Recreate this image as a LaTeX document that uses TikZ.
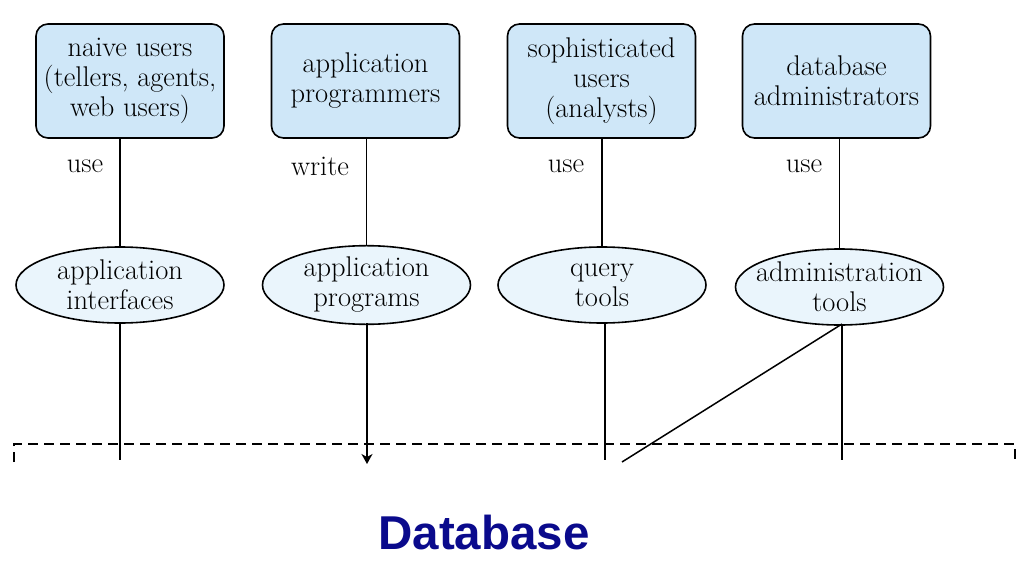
\documentclass[tikz,border=0pt]{standalone}
\usepackage{fontspec}
\newfontfamily\dbfont{Liberation Sans}
\usetikzlibrary{shapes.geometric,arrows.meta}
\definecolor{boxfill}{HTML}{CFE7F8}
\definecolor{ellfill}{HTML}{EAF5FC}
\definecolor{dbblue}{HTML}{0A0A8C}
\tikzset{
  userbox/.style={draw, line width=1.6pt, rounded corners=12pt, fill=boxfill,
    minimum width=188pt, minimum height=114pt, align=center, inner sep=0pt,
    font=\fontsize{28.5}{30}\selectfont},
  toolell/.style={draw, line width=1.6pt, ellipse, fill=ellfill,
    minimum width=208pt, minimum height=76pt, align=center, inner sep=0pt,
    font=\fontsize{28.5}{30}\selectfont},
  conn/.style={line width=1.5pt},
  verb/.style={font=\fontsize{28.5}{30}\selectfont},
  dashline/.style={line width=1.7pt, dash pattern=on 10pt off 6pt}
}
\begin{document}
\begin{tikzpicture}[x=1pt,y=-1pt]
\useasboundingbox (0,0) rectangle (1028,578);
% user boxes
\node[userbox] (b1) at (130,81) {naive users\\(tellers, agents,\\web users)};
\node[userbox] (b2) at (365.5,81) {application\\programmers};
\node[userbox] (b3) at (601.5,81) {sophisticated\\users\\(analysts)};
\node[userbox] (b4) at (836.5,81) {database\\administrators};
% tool ellipses
\node[toolell] (e1) at (120,285) {application\\interfaces};
\node[toolell] (e2) at (366.5,285) {application\\programs};
\node[toolell] (e3) at (602,285) {query\\tools};
\node[toolell, inner xsep=-10pt] (e4) at (839.5,287) {administration\\tools};
% verbs
\node[verb] (v1) at (85,166) {use};
\node[verb] (v2) at (320,166) {write};
\node[verb] (v3) at (566,166) {use};
\node[verb] (v4) at (804,166) {use};
% box to ellipse connectors
\draw[conn] (e1.north) -- (e1.north |- b1.south);
\draw[conn] (e2.north) -- (e2.north |- b2.south);
\draw[conn] (e3.north) -- (e3.north |- b3.south);
\draw[conn] (e4.north) -- (e4.north |- b4.south);
% bottom end points
\coordinate (d1) at (120,460);
\coordinate (d2) at (367,464);
\coordinate (d3) at (605,460);
\coordinate (d4) at (842,460);
\coordinate (d5) at (622,462);
\coordinate (t1) at (120,323);
\coordinate (t2) at (367,323);
\coordinate (t3) at (605,323);
\coordinate (t4) at (842,324);
\draw[conn] (t1) -- (d1);
\draw[conn, -{Stealth[length=10pt,width=11pt,inset=3pt]}] (t2) -- (d2);
\draw[conn] (t3) -- (d3);
\draw[conn] (t4) -- (d4);
\draw[conn] (t4) -- (d5);
% dashed database boundary
\coordinate (bl) at (14,462);
\coordinate (tl) at (14,444);
\coordinate (tr) at (1015,444);
\coordinate (br) at (1015,462);
\draw[dashline] (bl) -- (tl) -- (tr) -- (br);
\node[font=\dbfont\bfseries\fontsize{47.5}{50}\selectfont, text=dbblue] (db) at (484,533) {Database};
\end{tikzpicture}
\end{document}
